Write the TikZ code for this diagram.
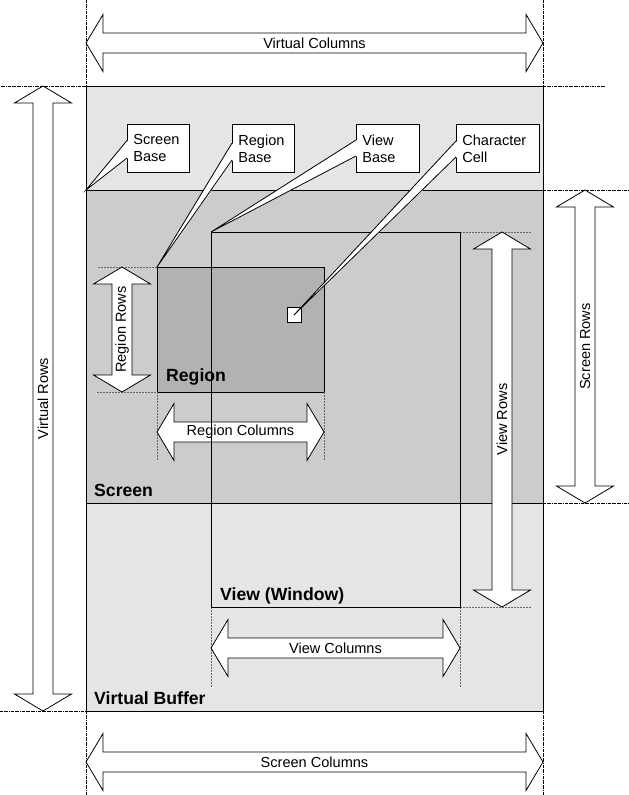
\documentclass[tikz,border=0pt]{standalone}
\usepackage{fontspec}
\setmainfont{Liberation Sans}
\usetikzlibrary{calc}

\tikzset{
  area/.style={draw, line width=0.8pt},
  dimarrow/.style={draw, fill=white, line width=0.8pt, line join=miter},
  dimlabel/.style={inner sep=0pt, font=\fontsize{14.6}{17}\selectfont},
  arealabel/.style={anchor=base west, inner sep=0pt, font=\bfseries\fontsize{17.7}{20}\selectfont},
  callbox/.style={draw, fill=white, line width=0.8pt, anchor=north west, align=left,
    inner xsep=6bp, inner ysep=0pt, minimum height=48bp, font=\fontsize{14.6}{17}\selectfont},
  extline/.style={densely dash dot, line width=0.5pt},
  refline/.style={dash pattern=on 2bp off 1bp, black!60, line width=0.5pt},
}

\begin{document}
\begin{tikzpicture}[x=1bp, y=-1bp]
\useasboundingbox (0,0) rectangle (629,795);
\coordinate (vb1) at (86,86);
\coordinate (vb2) at (543,711);
\coordinate (scr1) at (86,190);
\coordinate (scr2) at (543,503);
\coordinate (reg1) at (157,267);
\coordinate (reg2) at (324,392);
\coordinate (view1) at (211,232);
\coordinate (view2) at (460,607);
% areas
\draw[area, fill=black!10] (vb1) rectangle (vb2);
\draw[area, fill=black!20] (scr1) rectangle (scr2);
\draw[area, fill=black!30] (reg1) rectangle (reg2);
\node[draw, fill=white, line width=0.8pt, minimum width=14bp, minimum height=15bp, inner sep=0pt] (cell) at (294,315) {};
% guide lines
\draw[extline] (86,0) -- (vb1) -- (0,86);
\draw[extline] (543,0) -- (543,86) -- (605,86);
\draw[extline] (scr2 |- scr1) -- (629,190);
\draw[extline] (scr2) -- (629,503);
\draw[extline] (0,711) -- (86,711) -- (86,795);
\draw[extline] (vb2) -- (543,795);
\draw[refline] (reg1) -- (97,267);
\draw[refline] (97,392) -- (reg1 |- reg2) -- (157,461);
\draw[refline] (reg2) -- (324,461);
\draw[refline] (view2 |- view1) -- (532,232);
\draw[refline] (view2) -- (532,607);
\draw[refline] (view1 |- view2) -- (211,688);
\draw[refline] (view2) -- (460,688);
% dimension arrows
\foreach \xa/\xb/\yc/\txt/\nm in {86/543/43/Virtual Columns/vcols, 157/324/432/Region Columns/rcols,
    211/460/648/View Columns/wcols, 86/543/762/Screen Columns/scols}
{
  \draw[dimarrow] (\xa,\yc) -- ({\xa+17},{\yc-28.5}) -- ({\xa+17},{\yc-10}) -- ({\xb-17},{\yc-10})
    -- ({\xb-17},{\yc-28.5}) -- (\xb,\yc) -- ({\xb-17},{\yc+28.5}) -- ({\xb-17},{\yc+10})
    -- ({\xa+17},{\yc+10}) -- ({\xa+17},{\yc+28.5}) -- cycle;
  \node[dimlabel] (\nm) at ({(\xa+\xb)/2},\yc) {\txt};
}
\foreach \xc/\ya/\yb/\txt/\nm in {43/86/711/Virtual Rows/vrows, 122/267/392/Region Rows/rrows,
    502/232/607/View Rows/wrows, 585/190/503/Screen Rows/srows}
{
  \draw[dimarrow] (\xc,\ya) -- ({\xc+28.5},{\ya+17}) -- ({\xc+10},{\ya+17}) -- ({\xc+10},{\yb-17})
    -- ({\xc+28.5},{\yb-17}) -- (\xc,\yb) -- ({\xc-28.5},{\yb-17}) -- ({\xc-10},{\yb-17})
    -- ({\xc-10},{\ya+17}) -- ({\xc-28.5},{\ya+17}) -- cycle;
  \node[dimlabel, rotate=90] (\nm) at (\xc,{(\ya+\yb)/2}) {\txt};
}
% view window
\draw[area] (view1) rectangle (view2);
% area labels
\node[arealabel] (lregion) at (166,381) {Region};
\node[arealabel] (lscreen) at (94,496) {Screen};
\node[arealabel] (lview) at (220,600) {View (Window)};
\node[arealabel] (lbuffer) at (94,704) {Virtual Buffer};
% callouts
\node[callbox, text width=50bp] (sbase) at (127,124) {Screen\\Base};
\node[callbox, text width=50bp] (rbase) at (232,124) {Region\\Base};
\node[callbox, text width=51bp] (vbase) at (356,124) {View\\Base};
\node[callbox, text width=71bp] (ccell) at (456,124) {Character\\Cell};
\foreach \bx/\tip/\ta/\tb in {sbase/scr1/16.5/34, rbase/reg1/19/36, vbase/view1/16/32, ccell/cell.center/17/33}
{
  \fill[white] ($(\bx.north west)+(1,\ta)$) -- (\tip) -- ($(\bx.north west)+(1,\tb)$) -- cycle;
  \draw[line width=0.8pt] ($(\bx.north west)+(0,\ta)$) -- (\tip) -- ($(\bx.north west)+(0,\tb)$);
}
\end{tikzpicture}
\end{document}
